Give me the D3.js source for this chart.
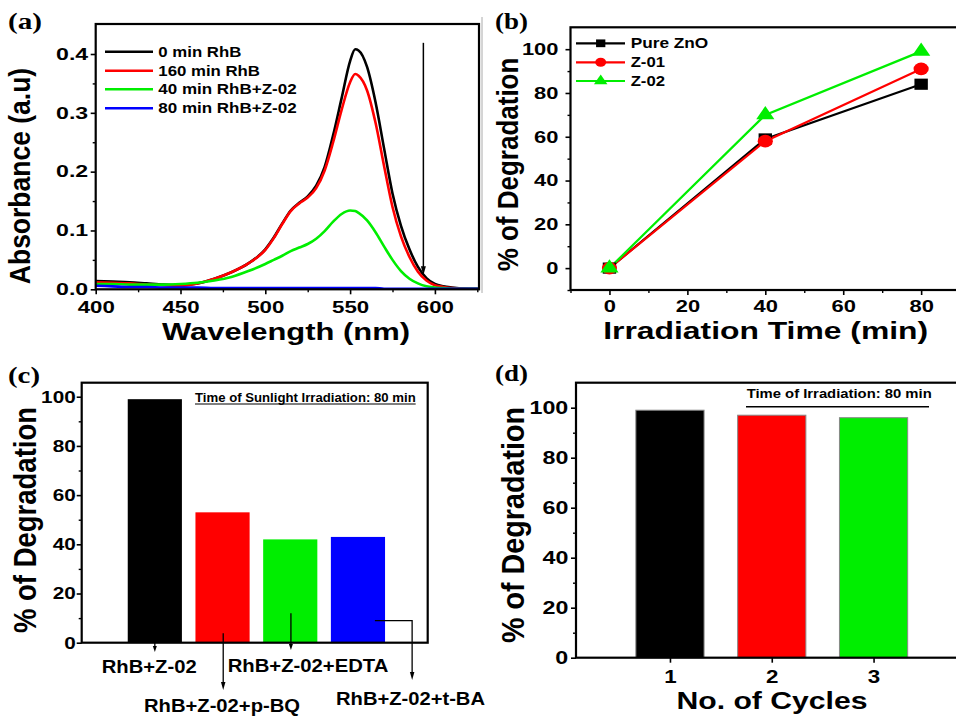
<!DOCTYPE html>
<html><head><meta charset="utf-8">
<script src="https://cdn.jsdelivr.net/npm/d3@7"></script>
<style>
body{margin:0;background:#fff}
svg{display:block}
text{font-family:"Liberation Sans",Arial,sans-serif;font-weight:bold;fill:#000}
</style>
</head><body>
<svg id="chart" width="956" height="716"></svg>
<script>
// ---------------- DATA ----------------
// (a) UV-vis spectra
const wavelengthNm   = [400,410,420,430,440,450,460,470,480,490,500,505,510,515,520,525,530,535,540,545,550,553,555,560,565,570,575,580,585,590,595,600,605,610,620,626];
const abs0minRhB     = [.014,.013,.012,.010,.008,.007,.010,.018,.029,.044,.068,.088,.112,.134,.147,.158,.176,.208,.262,.325,.388,.408,.406,.378,.318,.240,.163,.108,.068,.038,.019,.009,.005,.003,.001,.001];
const abs160minRhB   = [.012,.011,.010,.008,.007,.006,.010,.018,.029,.044,.067,.087,.111,.133,.146,.156,.172,.202,.250,.305,.352,.366,.363,.338,.283,.210,.140,.090,.055,.030,.015,.007,.004,.002,.001,.001];
const abs40minRhBZ02 = [.009,.009,.008,.008,.008,.009,.011,.015,.021,.031,.043,.050,.057,.065,.071,.077,.086,.099,.115,.128,.134,.133,.130,.117,.097,.073,.050,.031,.018,.010,.005,.003,.002,.001,.001,.001];
const abs80minRhBZ02 = [.006,.005,.004,.004,.003,.003,.003,.002,.002,.002,.002,.002,.002,.002,.002,.002,.002,.002,.002,.002,.002,.002,.002,.002,.002,.001,.001,.001,.001,.001,.001,.001,.001,.001,.001,.001];
const spectraNames   = ["0 min RhB","160 min RhB","40 min RhB+Z-02","80 min RhB+Z-02"];
const spectraColors  = ["#000000","#ff0000","#00ee00","#0000ff"];

// (b) degradation vs time
const irradiationTime = [0,40,80];
const degPureZnO      = [0,59,84];
const degZ01          = [0,58,91];
const degZ02          = [0,70,99];
const kineticNames    = ["Pure ZnO","Z-01","Z-02"];
const kineticColors   = ["#000000","#ff0000","#00ee00"];

// (c) scavengers
const scavengerLabels = ["RhB+Z-02","RhB+Z-02+p-BQ","RhB+Z-02+EDTA","RhB+Z-02+t-BA"];
const scavengerDeg    = [99,53,42,43];
const scavengerColors = ["#000000","#ff0000","#00ee00","#0000ff"];

// (d) recycling
const cycleNumbers = [1,2,3];
const cycleDeg     = [99,97,96];
const cycleColors  = ["#000000","#ff0000","#00ee00"];

// tick values
const tickA_x = [400,450,500,550,600],   tickA_xMinor = [425,475,525,575,625];
const tickA_y = [0,0.1,0.2,0.3,0.4],     tickA_yMinor = [0.05,0.15,0.25,0.35];
const tickB_x = [0,20,40,60,80],         tickB_xMinor = [-10,10,30,50,70,90];
const tickB_y = [0,20,40,60,80,100],     tickB_yMinor = [-10,10,30,50,70,90];
const tickCD_y = [0,20,40,60,80,100],    tickCD_yMinor = [10,30,50,70,90];

// ---------------- HELPERS ----------------
const svg = d3.select("#chart");
svg.append("rect").attr("width",956).attr("height",716).attr("fill","#fff");

function txt(g, s, x, y, o){
  const t = g.append("text").attr("x",x).attr("y",y).text(s)
    .style("font-size", o.fs+"px")
    .attr("text-anchor", o.anchor||"start");
  if (o.len) t.attr("textLength", o.len).attr("lengthAdjust","spacingAndGlyphs");
  if (o.serif) t.style("font-family","'Liberation Serif','Times New Roman',serif");
  if (o.weight) t.style("font-weight", o.weight);
  return t;
}
function ytitle(g, s, x, y, fs, sy){
  g.append("text").attr("transform",`translate(${x},${y}) rotate(-90) scale(1,${sy})`)
    .attr("text-anchor","middle").style("font-size",fs+"px").text(s);
}
function frame(g, P){
  g.append("rect").attr("x",P.l).attr("y",P.t).attr("width",P.r-P.l).attr("height",P.b-P.t)
    .attr("fill","none").attr("stroke","#000").attr("stroke-width",2.2);
}
function leftAxis(g, scale, x0, major, minor, fmt, fs, sx, gap){
  const a = g.append("g").attr("transform",`translate(${x0},0)`)
    .call(d3.axisLeft(scale).tickValues(major).tickSize(5).tickFormat(fmt));
  a.select(".domain").remove();
  a.selectAll("line").attr("stroke","#000").attr("stroke-width",1.6);
  a.selectAll("text").style("font-size",fs+"px").attr("x",-gap/sx).attr("transform",`scale(${sx},1)`);
  const m = g.append("g").attr("transform",`translate(${x0},0)`)
    .call(d3.axisLeft(scale).tickValues(minor).tickSize(3).tickFormat(""));
  m.select(".domain").remove();
  m.selectAll("line").attr("stroke","#000").attr("stroke-width",1.4);
}
function bottomAxis(g, scale, y0, major, minor, fmt, fs, sx, base){
  const a = g.append("g").attr("transform",`translate(0,${y0})`)
    .call(d3.axisBottom(scale).tickValues(major).tickSize(5).tickFormat(fmt));
  a.select(".domain").remove();
  a.selectAll("line").attr("stroke","#000").attr("stroke-width",1.6);
  a.selectAll("text").style("font-size",fs+"px").attr("y",base).attr("dy",0).attr("transform",`scale(${sx},1)`);
  if (minor && minor.length){
    const m = g.append("g").attr("transform",`translate(0,${y0})`)
      .call(d3.axisBottom(scale).tickValues(minor).tickSize(3).tickFormat(""));
    m.select(".domain").remove();
    m.selectAll("line").attr("stroke","#000").attr("stroke-width",1.4);
  }
}
function arrowDown(g, x, y1, y2, w, h, sw){
  g.append("line").attr("x1",x).attr("x2",x).attr("y1",y1).attr("y2",y2-h+1)
    .attr("stroke","#000").attr("stroke-width",sw);
  g.append("path").attr("d",`M${x-w/2},${y2-h}L${x+w/2},${y2-h}L${x},${y2}Z`).attr("fill","#000");
}

// ---------------- PANEL (a) ----------------
{
  const P = {l:95.7, t:24, r:479, b:289.3};
  const g = svg.append("g");
  const x = d3.scaleLinear([400,626],[P.l,P.r]);
  const y = d3.scaleLinear([0,0.451],[P.b,P.t]);
  g.append("clipPath").attr("id","clipA").append("rect")
    .attr("x",P.l).attr("y",P.t).attr("width",P.r-P.l).attr("height",P.b-P.t);
  const series = [abs0minRhB, abs160minRhB, abs40minRhBZ02, abs80minRhBZ02];
  const line = d3.line().x((d,i)=>x(wavelengthNm[i])).y(d=>y(d)).curve(d3.curveMonotoneX);
  const cg = g.append("g").attr("clip-path","url(#clipA)");
  series.forEach((s,k)=>{
    cg.append("path").datum(s).attr("d",line).attr("fill","none")
      .attr("stroke",spectraColors[k]).attr("stroke-width",2.6);
  });
  // legend
  const rows = [51.7,70.7,89.3,108.3], lens=[83,101.7,138.3,138.3];
  spectraNames.forEach((n,k)=>{
    g.append("line").attr("x1",105).attr("x2",153).attr("y1",rows[k]).attr("y2",rows[k])
      .attr("stroke",spectraColors[k]).attr("stroke-width",2.6);
    txt(g, n, 158.3, rows[k]+5, {fs:14.5, len:lens[k]});
  });
  // arrow
  arrowDown(g, x(593.2), y(0.419), y(0.024), 5, 9, 1.5);
  leftAxis(g, y, P.l, tickA_y, tickA_yMinor, d3.format(".1f"), 16.5, 1.4, 7.5);
  bottomAxis(g, x, P.b, tickA_x, tickA_xMinor, d3.format("d"), 16.5, 1.35, 23.5);
  frame(g,P);
  ytitle(g, "Absorbance (a.u)", 30, 176, 26.5, 1.12);
  txt(g, "Wavelength (nm)", 286, 339.5, {fs:24, anchor:"middle", len:248});
  txt(g, "(a)", 8, 29, {fs:23, len:34, serif:true});
}

// ---------------- PANEL (b) ----------------
{
  const P = {l:570.5, t:27.3, r:1000, b:290};
  const g = svg.append("g");
  g.append("line").attr("x1",482).attr("x2",482).attr("y1",17).attr("y2",293)
    .attr("stroke","#aaa").attr("stroke-width",1);
  const x = d3.scaleLinear([-10,100],[570.5,570.5+110*3.896]);
  const y = d3.scaleLinear([-10,110],[P.b,P.t]);
  const series = [degPureZnO, degZ01, degZ02];
  const line = d3.line().x((d,i)=>x(irradiationTime[i])).y(d=>y(d));
  series.forEach((s,k)=>{
    g.append("path").datum(s).attr("d",line).attr("fill","none")
      .attr("stroke",kineticColors[k]).attr("stroke-width",2.2);
  });
  const sym = [d3.symbol().type(d3.symbolSquare).size(125),
               d3.symbol().type(d3.symbolCircle).size(125),
               d3.symbol().type(d3.symbolTriangle).size(100)];
  const symL = [d3.symbol().type(d3.symbolSquare).size(60),
                d3.symbol().type(d3.symbolCircle).size(65),
                d3.symbol().type(d3.symbolTriangle).size(55)];
  series.forEach((s,k)=>{
    g.selectAll(null).data(s).join("path")
      .attr("d",sym[k]())
      .attr("transform",(d,i)=>`translate(${x(irradiationTime[i])},${y(d)}) scale(1.2,1)`)
      .attr("fill",kineticColors[k]);
  });
  const rows=[43.3,62.3,81], lens=[77.6,34.3,34.3];
  kineticNames.forEach((n,k)=>{
    g.append("line").attr("x1",576).attr("x2",625).attr("y1",rows[k]).attr("y2",rows[k])
      .attr("stroke",kineticColors[k]).attr("stroke-width",2.2);
    g.append("path").attr("d",symL[k]()).attr("transform",`translate(600.7,${rows[k]}) scale(1.2,1)`)
      .attr("fill",kineticColors[k]);
    txt(g, n, 630.7, rows[k]+5, {fs:14.5, len:lens[k]});
  });
  leftAxis(g, y, P.l, tickB_y, tickB_yMinor, d3.format("d"), 16.5, 1.33, 12);
  bottomAxis(g, x, P.b, tickB_x, tickB_xMinor, d3.format("d"), 16.5, 1.33, 22.3);
  frame(g,P);
  ytitle(g, "% of Degradation", 518, 164.5, 26, 1.12);
  txt(g, "Irradiation Time (min)", 765.7, 338.5, {fs:23.5, anchor:"middle", len:325});
  txt(g, "(b)", 495, 29, {fs:23, len:33, serif:true});
}

// ---------------- PANEL (c) ----------------
{
  const P = {l:81.7, t:382.7, r:427.7, b:642.7};
  const g = svg.append("g");
  const x = d3.scaleLinear([-0.08,5.03],[P.l,P.r]);
  const y = d3.scaleLinear([0,105.7],[P.b,P.t]);
  const bw = 0.8;
  g.selectAll(null).data(scavengerDeg).join("rect")
    .attr("x",(d,i)=>x(i+1-bw/2)).attr("width",x(bw)-x(0))
    .attr("y",d=>y(d)).attr("height",d=>y(0)-y(d))
    .attr("fill",(d,i)=>scavengerColors[i]);
  // leader arrows (in data units)
  arrowDown(g, x(1), y(0), 652, 4, 6, 1.3);
  arrowDown(g, x(2.01), y(3.8), 690, 4.5, 8, 1.3);
  arrowDown(g, x(3.01), y(12), 650, 4, 6, 1.3);
  g.append("path").attr("d",`M${x(4.25)},${y(9)}H${x(4.8)}V${672}`)
    .attr("fill","none").attr("stroke","#000").attr("stroke-width",1.3);
  arrowDown(g, x(4.8), 671, 680, 4.5, 8, 0.1);
  leftAxis(g, y, P.l, tickCD_y, tickCD_yMinor, d3.format("d"), 17, 1.22, 6);
  frame(g,P);
  // category labels
  txt(g, scavengerLabels[0], 149.2, 673, {fs:18.6, anchor:"middle", len:95});
  txt(g, scavengerLabels[1], 222, 711.5, {fs:18.6, anchor:"middle", len:156});
  txt(g, scavengerLabels[2], 308, 672, {fs:18.6, anchor:"middle", len:160.7});
  txt(g, scavengerLabels[3], 336, 705, {fs:18.6, anchor:"start", len:149});
  // annotation
  txt(g, "Time of Sunlight Irradiation: 80 min", 195, 401.5, {fs:13.5, len:220.7});
  g.append("line").attr("x1",195).attr("x2",415.7).attr("y1",404).attr("y2",404)
    .attr("stroke","#000").attr("stroke-width",1.2);
  ytitle(g, "% of Degradation", 36, 520, 27.5, 1.12);
  txt(g, "(c)", 8, 382.5, {fs:23, len:32, serif:true});
}

// ---------------- PANEL (d) ----------------
{
  const P = {l:576, t:382.7, r:990, b:657.7};
  const g = svg.append("g");
  const x = d3.scaleLinear([0.077,4.05],[576,576+3.973*101.8]);
  const y = d3.scaleLinear([0,110],[P.b,P.t]);
  const bw = 0.67;
  g.selectAll(null).data(cycleDeg).join("rect")
    .attr("x",(d,i)=>x(cycleNumbers[i]-bw/2)).attr("width",x(bw)-x(0))
    .attr("y",d=>y(d)).attr("height",d=>y(0)-y(d))
    .attr("fill",(d,i)=>cycleColors[i]).attr("stroke","#888").attr("stroke-width",1);
  leftAxis(g, y, P.l, tickCD_y, tickCD_yMinor, d3.format("d"), 17.5, 1.33, 7.7);
  bottomAxis(g, x, P.b, cycleNumbers, [], d3.format("d"), 18.6, 1.2, 25.6);
  frame(g,P);
  txt(g, "Time of Irradiation: 80 min", 746.7, 398.3, {fs:13, len:185});
  g.append("line").attr("x1",746).attr("x2",929).attr("y1",406.7).attr("y2",406.7)
    .attr("stroke","#000").attr("stroke-width",1.5);
  ytitle(g, "% of Degradation", 524, 525, 28.7, 1.12);
  txt(g, "No. of Cycles", 772, 709, {fs:23.5, anchor:"middle", len:191});
  txt(g, "(d)", 495, 381, {fs:23, len:33, serif:true});
}
</script>
</body></html>
